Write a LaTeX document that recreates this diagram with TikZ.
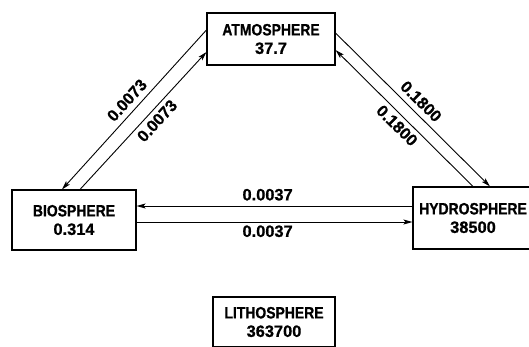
\documentclass[tikz,border=0pt]{standalone}
\usepackage{fontspec}
\setmainfont{Liberation Sans}[BoldFeatures={FakeBold=0.8}]
\newfontfamily\namefont{Liberation Sans}[FakeStretch=0.85, BoldFeatures={FakeBold=0.8}]
\usetikzlibrary{arrows.meta,calc}
\newcommand{\spherelabel}[2]{{\namefont #1}\\#2}

\begin{document}
\begin{tikzpicture}[
    x=1pt, y=-1pt,
    font=\bfseries\fontsize{16.4}{18.5}\selectfont,
    box/.style={draw, line width=1.1pt, align=center, inner sep=0pt},
    arr/.style={-{Stealth[length=9pt,width=5pt,inset=2pt]}, line width=0.9pt},
    lab/.style={inner sep=0pt}
]
\useasboundingbox (0,0) rectangle (529,346);

\node[box, minimum width=128pt, minimum height=52pt] (atm) at (271,39) {\spherelabel{ATMOSPHERE}{37.7}};
\node[box, minimum width=124pt, minimum height=60pt] (bio) at (74,220) {\spherelabel{BIOSPHERE}{0.314}};
\node[box, minimum width=120pt, minimum height=62pt] (hyd) at (473,218) {\spherelabel{HYDROSPHERE}{38500}};
\node[box, minimum width=122pt, minimum height=50pt] (lit) at (274,322) {\spherelabel{LITHOSPHERE}{363700}};

% atmosphere <-> biosphere
\draw[arr] ([yshift=9pt]atm.west) -- node[lab, sloped, above=5.5pt, pos=0.49] (ab) {0.0073} ([xshift=-12pt]bio.north);
\draw[arr] ([xshift=6pt]bio.north) -- node[lab, sloped, below=4pt, pos=0.55] (ba) {0.0073} ([yshift=-13pt]atm.west);

% atmosphere <-> hydrosphere
\draw[arr] ([yshift=6pt]atm.east) -- node[lab, sloped, above=5.5pt, pos=0.5] (ah) {0.1800} ([xshift=17pt]hyd.north);
\draw[arr] (hyd.north) -- node[lab, sloped, below=4pt, pos=0.5] (ha) {0.1800} ([yshift=-11pt]atm.east);

% hydrosphere <-> biosphere
\draw[arr] ([yshift=12pt]hyd.west) -- node[lab, above=5pt, pos=0.525] (hb) {0.0037} ([yshift=14pt]bio.east);
\draw[arr] ([yshift=-2pt]bio.east) -- node[lab, below=3pt, pos=0.475] (bh) {0.0037} ([yshift=-4pt]hyd.west);
\end{tikzpicture}
\end{document}
